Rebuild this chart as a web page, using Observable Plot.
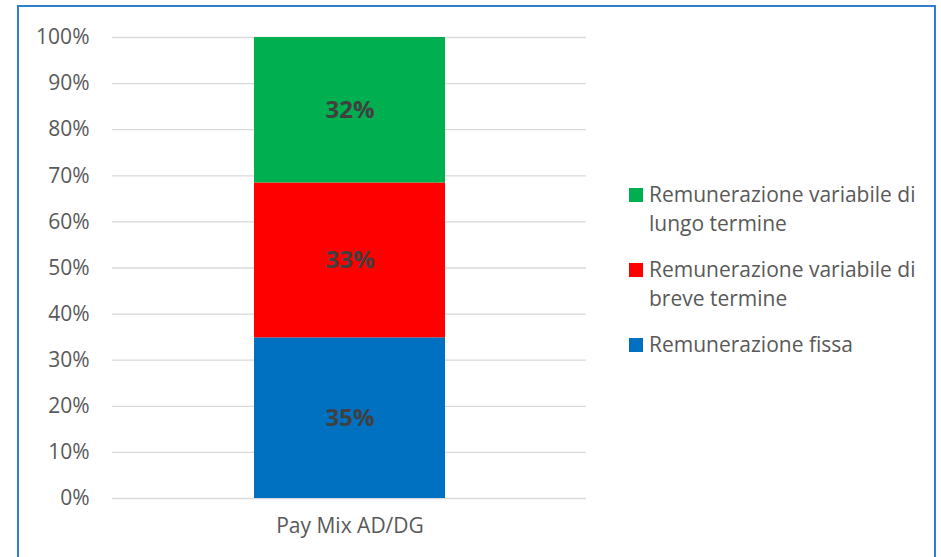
<!DOCTYPE html>
<html><head><meta charset="utf-8">
<script src="https://cdn.jsdelivr.net/npm/d3@7"></script>
<script src="https://cdn.jsdelivr.net/npm/@observablehq/plot@0.6"></script>
<style>
html,body{margin:0;padding:0;background:#fff;width:941px;height:557px;overflow:hidden;font-family:"Open Sans",sans-serif;}
#frame{position:absolute;left:17px;top:5px;width:919px;height:600px;border:2px solid #2f7fd0;box-sizing:border-box;}
#chart{position:absolute;left:0;top:0;}
#legend{position:absolute;left:629px;top:180px;color:#595959;font-size:21px;line-height:29px;}
.item{position:relative;padding-left:20px;width:280px;margin-bottom:17px;}
.sw{position:absolute;left:0;top:8px;width:14px;height:14px;}
</style></head>
<body>
<div id="frame"></div>
<div id="chart"></div>
<div id="legend"></div>
<script>
const categories = ["Pay Mix AD/DG"];
const series = ["Remunerazione fissa", "Remunerazione variabile di breve termine", "Remunerazione variabile di lungo termine"];
const values = [34.85, 33.6, 31.55];
const colors = ["#0070C0", "#FF0000", "#00B050"];
const labels = ["35%", "33%", "32%"];
const yTicks = [0, 10, 20, 30, 40, 50, 60, 70, 80, 90, 100];

const data = series.map((s, i) => ({category: categories[0], series: s, value: values[i], label: labels[i]}));

const plot = Plot.plot({
  width: 600,
  height: 557,
  marginLeft: 112,
  marginRight: 14,
  marginTop: 37,
  marginBottom: 59,
  style: {fontFamily: "Open Sans, sans-serif", fontSize: "21px", color: "#595959", background: "transparent"},
  x: {domain: categories, padding: 0.4255, label: null, tickSize: 0, tickPadding: 20},
  y: {domain: [0, 100], ticks: yTicks, label: null, tickSize: 0, tickPadding: 23, tickFormat: d => d + "%"},
  color: {domain: series, range: colors},
  marks: [
    Plot.ruleY(yTicks, {stroke: "#d9d9d9", strokeWidth: 1.3}),
    Plot.barY(data, Plot.stackY({x: "category", y: "value", fill: "series", order: series})),
    Plot.text(data, Plot.stackY({x: "category", y: "value", z: "series", order: series, text: "label", fill: "#404040", fontWeight: "bold", fontSize: 24}))
  ]
});
document.getElementById("chart").appendChild(plot);

const legend = document.getElementById("legend");
[...series].reverse().forEach(s => {
  const div = document.createElement("div");
  div.className = "item";
  const sw = document.createElement("span");
  sw.className = "sw";
  sw.style.background = colors[series.indexOf(s)];
  div.appendChild(sw);
  div.appendChild(document.createTextNode(s));
  legend.appendChild(div);
});
</script>
</body></html>
